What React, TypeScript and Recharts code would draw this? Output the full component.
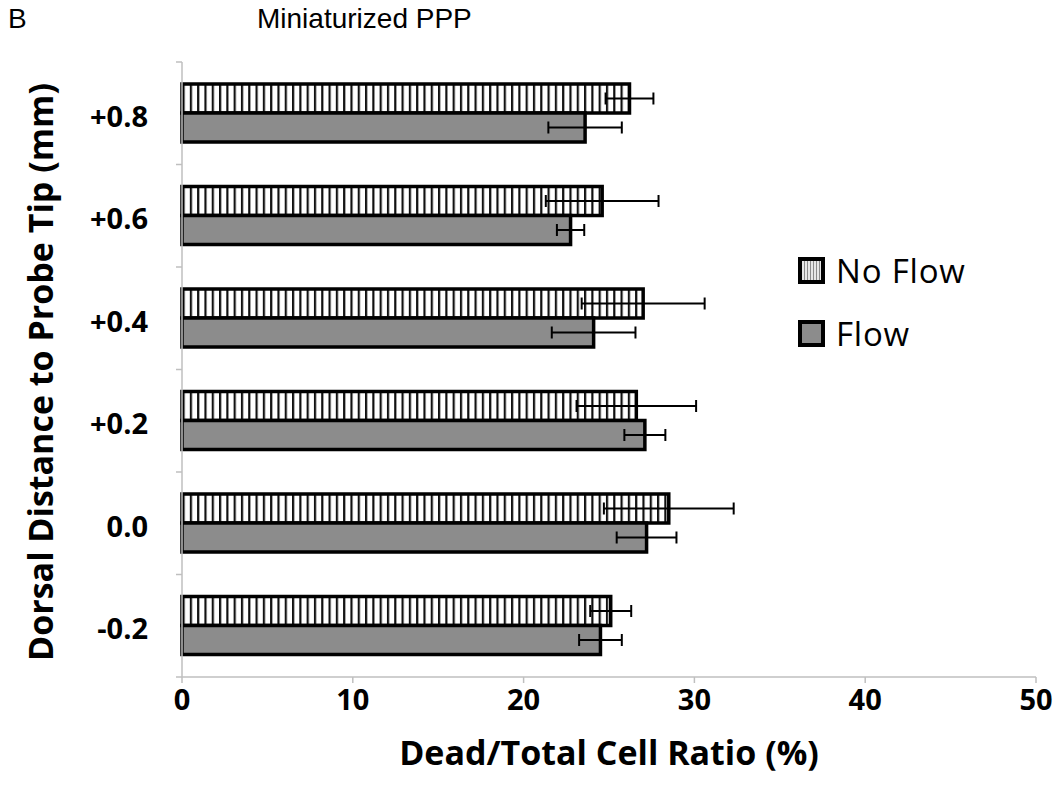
import React from 'react';
import {
  BarChart,
  Bar,
  XAxis,
  YAxis,
  ErrorBar,
} from 'recharts';

// dorsal distance categories, top to bottom
const categories = ['+0.8', '+0.6', '+0.4', '+0.2', '0.0', '-0.2'];
const noFlow = [26.2, 24.6, 27.0, 26.6, 28.5, 25.1];
const noFlowErr = [1.4, 3.3, 3.6, 3.5, 3.8, 1.2];
const flow = [23.6, 22.75, 24.1, 27.1, 27.2, 24.5];
const flowErr = [2.15, 0.8, 2.45, 1.2, 1.75, 1.25];
const xTicks = [0, 10, 20, 30, 40, 50];

const chartData = categories.map((name, i) => ({
  name,
  noFlow: noFlow[i],
  noFlowErr: noFlowErr[i],
  flow: flow[i],
  flowErr: flowErr[i],
}));

const W = 1061;
const H = 808;
const M = { top: 62, right: 25, bottom: 31, left: 32 };
const Y_AXIS_W = 150;
const X_AXIS_H = 100;
const PLOT_H = H - M.top - M.bottom - X_AXIS_H;
const BAND = PLOT_H / categories.length;
const AXIS_GRAY = '#bfbfbf';
const FONT = '"Open Sans", sans-serif';

const CategoryTick = (props: any) => {
  const { x, y, payload, index } = props;
  const axisX = x + 34;
  return (
    <g>
      <text
        x={x}
        y={y + 2}
        textAnchor="end"
        dominantBaseline="central"
        fontFamily={FONT}
        fontWeight={700}
        fontSize={29}
        fill="#000"
      >
        {payload.value}
      </text>
      <line x1={axisX - 6} x2={axisX} y1={y - BAND / 2} y2={y - BAND / 2} stroke={AXIS_GRAY} strokeWidth={1.5} />
      {index === categories.length - 1 && (
        <line x1={axisX - 6} x2={axisX} y1={y + BAND / 2} y2={y + BAND / 2} stroke={AXIS_GRAY} strokeWidth={1.5} />
      )}
    </g>
  );
};

const legendItems = [
  { label: 'No Flow', fill: 'url(#legendStripes)' },
  { label: 'Flow', fill: '#8c8c8c' },
];

const LegendBox = () => (
  <div style={{ position: 'absolute', left: 798, top: 239, fontFamily: FONT, fontSize: 33, letterSpacing: 0.8, color: '#000', lineHeight: '63px' }}>
    {legendItems.map((item) => (
      <div key={item.label} style={{ display: 'flex', alignItems: 'center' }}>
        <svg width={27} height={27} style={{ marginRight: 11 }}>
          <rect x={2} y={2} width={23} height={23} fill={item.fill} stroke="#000" strokeWidth={4} />
        </svg>
        <span>{item.label}</span>
      </div>
    ))}
  </div>
);

export default function App() {
  return (
    <div style={{ position: 'absolute', left: 0, top: 0, width: W, height: H, background: '#fff' }}>
      <div style={{ position: 'absolute', left: 8, top: 3, fontFamily: '"Liberation Sans", Arial', fontSize: 28 }}>B</div>
      <div style={{ position: 'absolute', left: 257, top: 3, fontFamily: '"Liberation Sans", Arial', fontSize: 28 }}>
        Miniaturized PPP
      </div>
      <div
        style={{
          position: 'absolute',
          left: 40,
          top: 372,
          transform: 'translate(-50%, -50%) rotate(-90deg)',
          whiteSpace: 'nowrap',
          fontFamily: FONT,
          fontWeight: 700,
          fontSize: 34,
        }}
      >
        Dorsal Distance to Probe Tip (mm)
      </div>
      <div
        style={{
          position: 'absolute',
          left: 609,
          top: 752,
          transform: 'translate(-50%, -50%)',
          whiteSpace: 'nowrap',
          fontFamily: FONT,
          fontWeight: 700,
          fontSize: 34,
        }}
      >
        Dead/Total Cell Ratio (%)
      </div>
      <BarChart
        width={W}
        height={H}
        data={chartData}
        layout="vertical"
        margin={M}
        barSize={29}
        barGap={0}
        style={{ position: 'absolute', left: 0, top: 0 }}
      >
        <defs>
          <pattern id="stripes" patternUnits="userSpaceOnUse" width={7.3} height={10}>
            <rect x={0} y={0} width={7.3} height={10} fill="#fff" />
            <rect x={0} y={0} width={2.2} height={10} fill="#111" />
          </pattern>
          <pattern id="legendStripes" patternUnits="userSpaceOnUse" width={3} height={10}>
            <rect x={0} y={0} width={3} height={10} fill="#e6e6e6" />
            <rect x={0} y={0} width={1} height={10} fill="#8a8a8a" />
          </pattern>
        </defs>
        <XAxis
          type="number"
          domain={[0, 50]}
          ticks={xTicks}
          height={X_AXIS_H}
          axisLine={{ stroke: AXIS_GRAY, strokeWidth: 1.5 }}
          tickLine={{ stroke: AXIS_GRAY, strokeWidth: 1.5 }}
          tickSize={6}
          tickMargin={6}
          tick={{ fill: '#000', fontFamily: FONT, fontWeight: 700, fontSize: 29 }}
        />
        <YAxis
          type="category"
          dataKey="name"
          width={Y_AXIS_W}
          axisLine={{ stroke: AXIS_GRAY, strokeWidth: 1.5 }}
          tickLine={false}
          tickSize={0}
          tickMargin={34}
          tick={<CategoryTick />}
          interval={0}
        />
        <Bar dataKey="noFlow" name="No Flow" fill="url(#stripes)" stroke="#000" strokeWidth={3.5} isAnimationActive={false}>
          <ErrorBar dataKey="noFlowErr" direction="x" width={6} stroke="#000" strokeWidth={2} isAnimationActive={false} />
        </Bar>
        <Bar dataKey="flow" name="Flow" fill="#8c8c8c" stroke="#000" strokeWidth={3.5} isAnimationActive={false}>
          <ErrorBar dataKey="flowErr" direction="x" width={6} stroke="#000" strokeWidth={2} isAnimationActive={false} />
        </Bar>
      </BarChart>
      <LegendBox />
    </div>
  );
}
